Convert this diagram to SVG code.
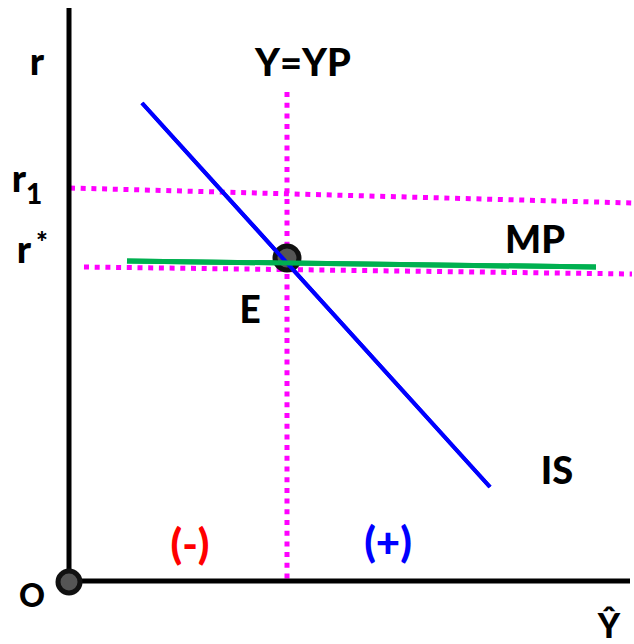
<svg xmlns="http://www.w3.org/2000/svg" width="634" height="644" viewBox="0 0 634 644">
<style>
text{font-family:Lato,"Open Sans","Liberation Sans",sans-serif;font-weight:900;fill:#000}
.dot{stroke:#ff00ff;stroke-width:5;stroke-dasharray:5 5.7;fill:none}
.ax{stroke:#000;stroke-width:5;fill:none}
</style>
<rect width="634" height="644" fill="#fff"/>
<g id="guides">
<line class="dot" x1="70" y1="188" x2="632" y2="203"/>
<line class="dot" x1="84" y1="267" x2="632" y2="274"/>
<line class="dot" x1="287" y1="92" x2="287" y2="582"/>
</g>
<g id="axes">
<line class="ax" x1="69" y1="8" x2="69" y2="584"/>
<line class="ax" x1="67" y1="581" x2="630" y2="581"/>
</g>
<g id="connectors">
<line id="IS" x1="142" y1="103" x2="490" y2="487" stroke="#0000ff" stroke-width="4"/>
<line id="MP" x1="127" y1="261" x2="596" y2="267" stroke="#00b050" stroke-width="5"/>
</g>
<g id="origin"><circle cx="69" cy="582" r="11" fill="#555" stroke="#111" stroke-width="5"/></g>
<g id="E"><circle cx="287" cy="258" r="12" fill="#555" stroke="#111" stroke-width="5"/>
<line x1="142" y1="103" x2="490" y2="487" stroke="#0000ff" stroke-width="4"/>
<line x1="127" y1="261" x2="596" y2="267" stroke="#00b050" stroke-width="5"/>
<text x="250" y="323" font-size="37" text-anchor="middle">E</text></g>
<g id="labels">
<text x="37" y="75" font-size="38" text-anchor="middle">r</text>
<text x="19" y="192" font-size="38" text-anchor="middle">r</text>
<text x="34" y="204" font-size="28" text-anchor="middle">1</text>
<text x="24" y="263" font-size="38" text-anchor="middle">r</text>
<text x="42" y="252" font-size="28" text-anchor="middle">*</text>
<text x="303" y="76" font-size="38" text-anchor="middle">Y=YP</text>
<text x="535" y="253" font-size="38" text-anchor="middle">MP</text>
<text x="557" y="484" font-size="38" text-anchor="middle">IS</text>
<text x="32" y="607" font-size="32" text-anchor="middle">O</text>
<text x="609" y="638" font-size="34" text-anchor="middle">Ŷ</text>
<text x="190" y="559" font-size="42" text-anchor="middle" style="fill:#ff0000">(-)</text>
<text x="388" y="557" font-size="42" text-anchor="middle" style="fill:#0000ff">(+)</text>
</g>
</svg>
